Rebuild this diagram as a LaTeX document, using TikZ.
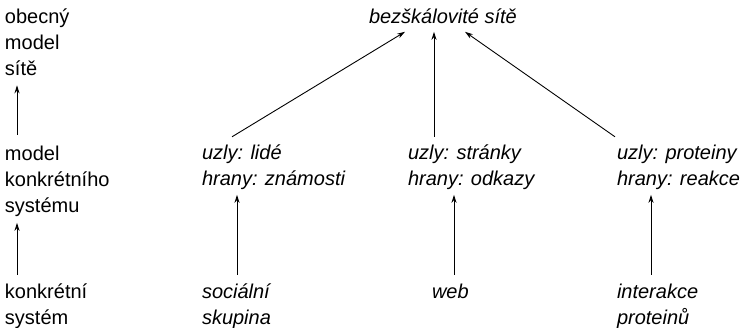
\documentclass[tikz,border=0pt]{standalone}
\usepackage{fontspec}
\setmainfont{Liberation Sans}
\usetikzlibrary{arrows.meta}
\begin{document}
\begin{tikzpicture}[x=1pt,y=-1pt,
  lbl/.style={anchor=base west,inner sep=0pt,outer sep=0pt,font=\fontsize{20}{26}\selectfont},
  ilbl/.style={lbl,font=\fontsize{20}{26}\selectfont\itshape},
  arr/.style={-{Stealth[length=8pt,width=5pt]},line width=0.9pt,black}]
\useasboundingbox (0,0) rectangle (745,327);
% left column
\node[lbl] (A) at (5,23.5) {\begin{tabular}[t]{@{}l@{}}obecný\\model\\sítě\end{tabular}};
\node[lbl] (B) at (5,160) {\begin{tabular}[t]{@{}l@{}}model\\konkrétního\\systému\end{tabular}};
\node[lbl] (C) at (5,298) {\begin{tabular}[t]{@{}l@{}}konkrétní\\systém\end{tabular}};
% top
\node[ilbl] (T) at (369,23) {\begin{tabular}[t]{@{}l@{}}bezškálovité sítě\end{tabular}};
% models
\node[ilbl] (S1) at (202,159) {\begin{tabular}[t]{@{}l@{}}uzly: lidé\\hrany: známosti\end{tabular}};
\node[ilbl] (S2) at (408,159) {\begin{tabular}[t]{@{}l@{}}uzly: stránky\\hrany: odkazy\end{tabular}};
\node[ilbl] (S3) at (617,159) {\begin{tabular}[t]{@{}l@{}}uzly: proteiny\\hrany: reakce\end{tabular}};
% systems
\node[ilbl] (R1) at (202,298) {\begin{tabular}[t]{@{}l@{}}sociální\\skupina\end{tabular}};
\node[ilbl] (R2) at (432,298) {\begin{tabular}[t]{@{}l@{}}web\end{tabular}};
\node[ilbl] (R3) at (617,298) {\begin{tabular}[t]{@{}l@{}}interakce\\proteinů\end{tabular}};
% left arrows
\draw[arr] ([shift={(12,-7)}]B.north west) -- ([shift={(12,2)}]A.south west);
\draw[arr] ([shift={(12,-5)}]C.north west) -- ([shift={(12,3)}]B.south west);
% column arrows
\draw[arr] ([shift={(35,-5)}]R1.north west) -- ([shift={(35,2)}]S1.south west);
\draw[arr] ([shift={(22,-5)}]R2.north west) -- ([shift={(46,2)}]S2.south west);
\draw[arr] ([shift={(34,-5)}]R3.north west) -- ([shift={(34,2)}]S3.south west);
% top arrows
\draw[arr] ([shift={(30,-4)}]S1.north west) -- ([shift={(36,1)}]T.south west);
\draw[arr] ([shift={(26,-4)}]S2.north west) -- ([shift={(65,1)}]T.south west);
\draw[arr] ([shift={(-2,-4)}]S3.north west) -- ([shift={(96,1)}]T.south west);
\end{tikzpicture}
\end{document}
